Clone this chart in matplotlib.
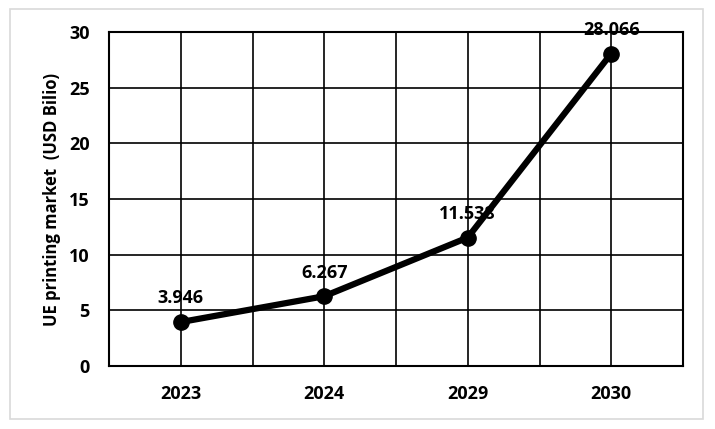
import matplotlib.pyplot as plt
from matplotlib.patches import Rectangle
import numpy as np

years = ['2023', '2024', '2029', '2030']
market = [3.946, 6.267, 11.538, 28.066]
labels = ['3.946', '6.267', '11.538', '28.066']

plt.rcParams['font.family'] = ['Open Sans', 'DejaVu Sans']
plt.rcParams['font.weight'] = 'bold'

fig = plt.figure(figsize=(7.15, 4.29), dpi=100)
ax = fig.add_axes([109 / 715, 1 - 366 / 429, (683 - 109) / 715, (366 - 32) / 429])

# light frame around whole chart
fig.patches.append(Rectangle((10 / 715, 1 - 419 / 429), 693 / 715, 410 / 429,
                             transform=fig.transFigure, fill=False,
                             edgecolor='#d9d9d9', linewidth=1.2))

x = np.arange(len(years))
ax.plot(x, market, color='black', linewidth=4.5, marker='o', markersize=11, zorder=3)
for xi, yi, lab in zip(x, market, labels):
    ax.annotate(lab, (xi, yi), xytext=(0, 10.5), textcoords='offset points',
                ha='center', va='bottom', fontsize=13, fontweight='bold')

ax.set_xlim(-0.5, len(years) - 0.5)
ax.set_ylim(0, 30)
ax.set_yticks(range(0, 31, 5))
ax.set_xticks(x)
ax.set_xticklabels(years)
ax.set_xticks(np.arange(-0.5, len(years), 1.0), minor=True)
ax.grid(which='both', axis='x', color='black', linewidth=1.2)
ax.grid(which='major', axis='y', color='black', linewidth=1.2)
ax.set_axisbelow(True)
ax.tick_params(length=0, labelsize=13)
ax.tick_params(axis='y', pad=14)
ax.tick_params(axis='x', pad=14)
ax.tick_params(which='minor', length=0)
for lab in ax.get_xticklabels() + ax.get_yticklabels():
    lab.set_fontweight('bold')
for s in ax.spines.values():
    s.set_linewidth(1.5)

ax.set_ylabel('UE printing market  (USD Bilio)', fontsize=12, fontweight='bold', labelpad=6)

fig.savefig('out.png', dpi=100)
